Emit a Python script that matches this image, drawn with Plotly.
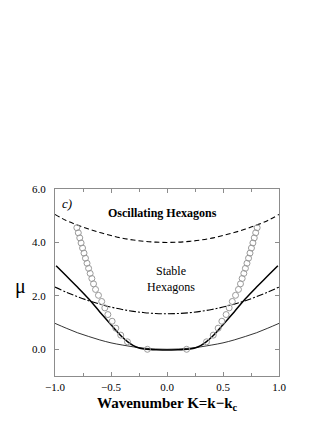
import plotly.graph_objects as go

# Wavenumber grid for the curves
K = [-1.0, -0.9, -0.8, -0.7, -0.6, -0.5, -0.4, -0.3, -0.2, -0.1, 0.0,
     0.1, 0.2, 0.3, 0.4, 0.5, 0.6, 0.7, 0.8, 0.9, 1.0]

# Oscillating hexagons boundary (dashed)
mu_osc = [5.05, 4.82, 4.65, 4.50, 4.37, 4.26, 4.16, 4.09, 4.04, 4.01, 4.00,
          4.01, 4.04, 4.09, 4.16, 4.26, 4.37, 4.50, 4.65, 4.82, 5.05]
# dash-dot boundary
mu_dd = [2.33, 2.14, 1.97, 1.82, 1.69, 1.58, 1.49, 1.42, 1.37, 1.34, 1.33,
         1.34, 1.37, 1.42, 1.49, 1.58, 1.69, 1.82, 1.97, 2.14, 2.33]
# thin solid (neutral curve)
mu_thin = [0.97, 0.79, 0.62, 0.48, 0.35, 0.24, 0.16, 0.09, 0.04, 0.01, 0.00,
           0.01, 0.04, 0.09, 0.16, 0.24, 0.35, 0.48, 0.62, 0.79, 0.97]

# thick solid curve
K_thick = [-0.99, -0.9, -0.8, -0.7, -0.6, -0.5, -0.45, -0.4, -0.35, -0.3, -0.25,
           -0.2, -0.15, -0.1, 0.0, 0.1, 0.15, 0.2, 0.25, 0.3, 0.35, 0.4, 0.45,
           0.5, 0.6, 0.7, 0.8, 0.9, 0.99]
mu_thick = [3.13, 2.75, 2.33, 1.89, 1.40, 0.92, 0.68, 0.46, 0.28, 0.14, 0.05,
            0.01, -0.01, -0.02, -0.03, -0.02, -0.01, 0.01, 0.05, 0.14, 0.28, 0.46, 0.68,
            0.92, 1.40, 1.89, 2.33, 2.75, 3.13]

# circles (stability boundary), left branch then right branch
K_circ_left = [-0.805, -0.792, -0.779, -0.767, -0.754, -0.741, -0.728, -0.714,
               -0.700, -0.686, -0.671, -0.656, -0.638, -0.612, -0.583, -0.555,
               -0.528, -0.490, -0.457, -0.413, -0.353, -0.175]
mu_circ_left = [4.55, 4.36, 4.17, 3.98, 3.79, 3.60, 3.41, 3.22,
                3.03, 2.84, 2.65, 2.45, 2.24, 2.02, 1.79, 1.55,
                1.30, 1.05, 0.79, 0.53, 0.28, 0.00]
K_circ_right = [0.175, 0.353, 0.413, 0.457, 0.490, 0.528, 0.555, 0.583, 0.612,
                0.638, 0.656, 0.671, 0.686, 0.700, 0.714, 0.728, 0.741, 0.754,
                0.767, 0.779, 0.792, 0.805]
mu_circ_right = [0.00, 0.28, 0.53, 0.79, 1.05, 1.30, 1.55, 1.79, 2.02,
                 2.24, 2.45, 2.65, 2.84, 3.03, 3.22, 3.41, 3.60, 3.79,
                 3.98, 4.17, 4.36, 4.55]

x_ticks = [-1.0, -0.5, 0.0, 0.5, 1.0]
y_ticks = [0.0, 2.0, 4.0, 6.0]

SERIF = "Liberation Serif"

fig = go.Figure()
fig.add_trace(go.Scatter(x=K, y=mu_osc, mode="lines", line=dict(color="black", width=1.1, dash="5px,3px"),
                         line_shape="spline", showlegend=False))
fig.add_trace(go.Scatter(x=K, y=mu_dd, mode="lines", line=dict(color="black", width=1.1, dash="7px,2px,2px,2px"),
                         line_shape="spline", showlegend=False))
fig.add_trace(go.Scatter(x=K, y=mu_thin, mode="lines", line=dict(color="black", width=0.8),
                         line_shape="spline", showlegend=False))
fig.add_trace(go.Scatter(x=K_thick, y=mu_thick, mode="lines", line=dict(color="black", width=1.5),
                         line_shape="spline", showlegend=False))
for kx, my in ((K_circ_left, mu_circ_left), (K_circ_right, mu_circ_right)):
    fig.add_trace(go.Scatter(x=kx, y=my, mode="markers",
                             marker=dict(symbol="circle-open", size=6, color="#9a9a9a", line=dict(width=1)),
                             showlegend=False))

axis_common = dict(showline=True, mirror="ticks", linecolor="#8c8c8c", linewidth=1,
                   ticks="inside", tickcolor="#8c8c8c", ticklen=4, showgrid=False, zeroline=False,
                   tickfont=dict(family=SERIF, size=11, color="black"))
fig.update_xaxes(range=[-1, 1], tickvals=x_ticks, tickformat=".1f", ticklabelstandoff=1,
                 minor=dict(dtick=0.25, ticks="inside", ticklen=3, tickcolor="#8c8c8c"),
                 **axis_common)
fig.update_yaxes(range=[-1, 6], tickvals=y_ticks, tickformat=".1f", ticklabelstandoff=6, **axis_common)

fig.add_annotation(x=-0.89, y=5.46, xref="x", yref="y", text="<i>c)</i>", showarrow=False,
                   font=dict(family=SERIF, size=13, color="black"))
fig.add_annotation(x=-0.04, y=5.12, xref="x", yref="y", text="<b>Oscillating Hexagons</b>", showarrow=False,
                   font=dict(family=SERIF, size=12, color="black"))
fig.add_annotation(x=0.04, y=2.63, xref="x", yref="y", text="Stable<br>Hexagons", showarrow=False,
                   font=dict(family=SERIF, size=12, color="black"))
fig.add_annotation(x=0.0, y=-0.15, xref="x", yref="paper", text="<b>Wavenumber K=k−k<sub>c</sub></b>",
                   xanchor="center", yanchor="middle",
                   showarrow=False, font=dict(family=SERIF, size=15, color="black"))
fig.add_annotation(x=-0.155, y=0.48, xref="paper", yref="paper", text="μ",
                   xanchor="center", yanchor="middle",
                   showarrow=False, font=dict(family=SERIF, size=20, color="black"))

# page body has an 8px margin, so the figure is shrunk by 8px and margins shifted
fig.update_layout(width=319, height=415, margin=dict(l=47, r=48, t=181, b=47),
                  plot_bgcolor="white", paper_bgcolor="white")

fig.write_html("out.html")
